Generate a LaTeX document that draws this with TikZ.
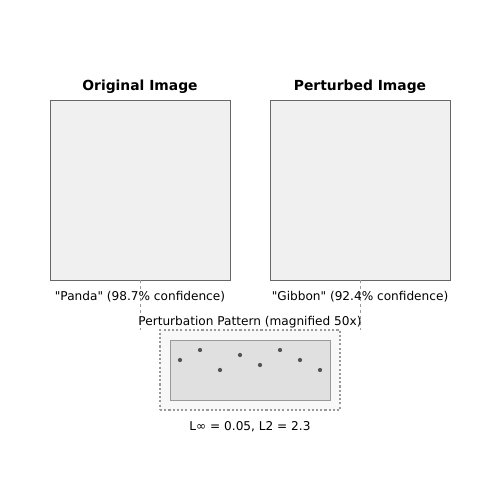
\documentclass[tikz,border=0pt]{standalone}
\usepackage{fontspec}
\setmainfont{DejaVu Sans}
\usetikzlibrary{positioning}

\definecolor{imgfill}{HTML}{F0F0F0}
\definecolor{imgline}{HTML}{666666}
\definecolor{patfill}{HTML}{F8F8F8}
\definecolor{innerfill}{HTML}{E0E0E0}
\definecolor{innerline}{HTML}{999999}
\definecolor{dotcol}{HTML}{555555}

\begin{document}
\begin{tikzpicture}[x=0.02cm, y=-0.02cm,
  imgbox/.style={draw=imgline, fill=imgfill, line width=0.55pt, minimum width=3.6cm, minimum height=3.6cm, inner sep=0pt},
  title/.style={font=\bfseries\fontsize{7.9}{9}\selectfont},
  caption/.style={font=\fontsize{6.9}{8}\selectfont},
  link/.style={draw=innerline, dash pattern=on 1.7pt off 1.7pt, line width=0.55pt},
  dot/.style={circle, fill=dotcol, inner sep=0pt, minimum size=0.085cm}]
  \useasboundingbox (0,0) rectangle (500,500);
  % images
  \node [imgbox] (orig) at (140,190) {};
  \node [imgbox] (pert) at (360,190) {};
  \node [title] (origtitle) at (140,86.5) {Original Image};
  \node [title] (perttitle) at (360,86.5) {Perturbed Image};
  \node [caption] (origlabel) at (140,297) {\textquotedbl Panda\textquotedbl{} (98.7\% confidence)};
  \node [caption] (pertlabel) at (360,297) {\textquotedbl Gibbon\textquotedbl{} (92.4\% confidence)};
  % connectors
  \coordinate (origend) at (140,330);
  \coordinate (pertend) at (360,330);
  \draw [link] (orig.south) -- (origend);
  \draw [link] (pert.south) -- (pertend);
  % perturbation pattern
  \node [draw=innerline, dash pattern=on 1.2pt off 1.2pt, fill=patfill, line width=0.6pt, minimum width=3.6cm, minimum height=1.6cm, inner sep=0pt] (pattern) at (250,370) {};
  \node [draw=innerline, fill=innerfill, line width=0.55pt, minimum width=3.2cm, minimum height=1.2cm, inner sep=0pt] (noise) at (250,370) {};
  \node [caption] (pattitle) at (250,322) {Perturbation Pattern (magnified 50x)};
  \node [caption] (norms) at (250,427) {L∞ = 0.05, L2 = 2.3};
  \foreach \x/\y [count=\i] in {180/360,200/350,220/370,240/355,260/365,280/350,300/360,320/370} {
    \node [dot] (d\i) at (\x,\y) {};
  }
\end{tikzpicture}
\end{document}
